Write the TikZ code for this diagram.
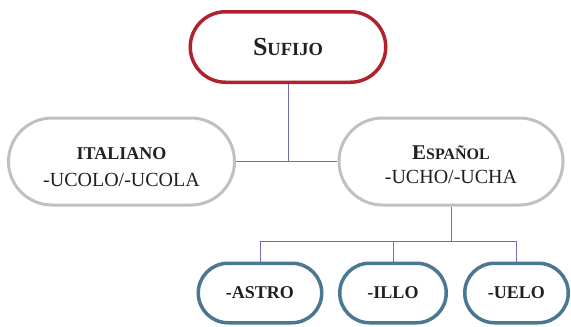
\documentclass[tikz,border=0pt]{standalone}
\usepackage{fontspec}
\setmainfont{Liberation Serif}
\usetikzlibrary{positioning,shapes.misc}

\definecolor{rojo}{HTML}{B0232E}
\definecolor{gris}{HTML}{C0C0C2}
\definecolor{azul}{HTML}{4A7893}
\definecolor{enlace}{HTML}{6E6EB4}
\definecolor{tinta}{HTML}{231F20}

\newcommand{\tam}[2]{{\fontsize{#1}{#1}\selectfont #2}}

\tikzset{
  caja/.style={rounded rectangle,draw,inner sep=0pt,text=tinta,align=center},
  raiz/.style={caja,draw=rojo,line width=3.5pt,minimum width=195.5pt,minimum height=70.5pt},
  lengua/.style={caja,draw=gris,line width=3pt,minimum height=87pt},
  forma/.style={caja,draw=azul,line width=3.5pt,minimum height=59.5pt},
  enl/.style={draw=enlace,line width=0.9pt}
}

\begin{document}
\begin{tikzpicture}[node distance=2cm,on grid]
    \useasboundingbox (-288pt,47pt) rectangle (283pt,-280pt);
    \node[raiz](sufijo){\bfseries\tam{26pt}{S}\tam{18.5pt}{UFIJO}};
    \node[lengua,minimum width=226pt,font=\fontsize{20pt}{27pt}\selectfont](italiano)
      [below left=114.5pt and 166.5pt of sufijo]
      {\rule{0pt}{23pt}\bfseries\tam{18pt}{ITALIANO}\\ -UCOLO/-UCOLA};
    \node[lengua,minimum width=224pt,font=\fontsize{20pt}{23.5pt}\selectfont](espanol)
      [below right=114.5pt and 163pt of sufijo]
      {\rule{0pt}{20pt}\bfseries\tam{21pt}{E}\tam{16pt}{SPAÑOL}\\ -UCHO/-UCHA};
    \node[forma,minimum width=123.5pt](astro)[below left=131.5pt and 191pt of espanol]
      {\bfseries\tam{18pt}{-ASTRO}};
    \node[forma,minimum width=106.5pt](illo)[below left=131.5pt and 58pt of espanol]
      {\bfseries\tam{18pt}{-ILLO}};
    \node[forma,minimum width=103.5pt](uelo)[below right=131.5pt and 65.5pt of espanol]
      {\bfseries\tam{18pt}{-UELO}};
    % enlaces
    \coordinate[below=35pt of espanol.south](rama);
    \path[enl]
    (sufijo.south) -- (sufijo.south |- italiano.east)
    (italiano.east) -- (espanol.west)
    (espanol.south) -- (rama)
    (astro.north) |- (rama) -| (uelo.north)
    (illo.north) -- (illo.north |- rama);
  \end{tikzpicture}
\end{document}
